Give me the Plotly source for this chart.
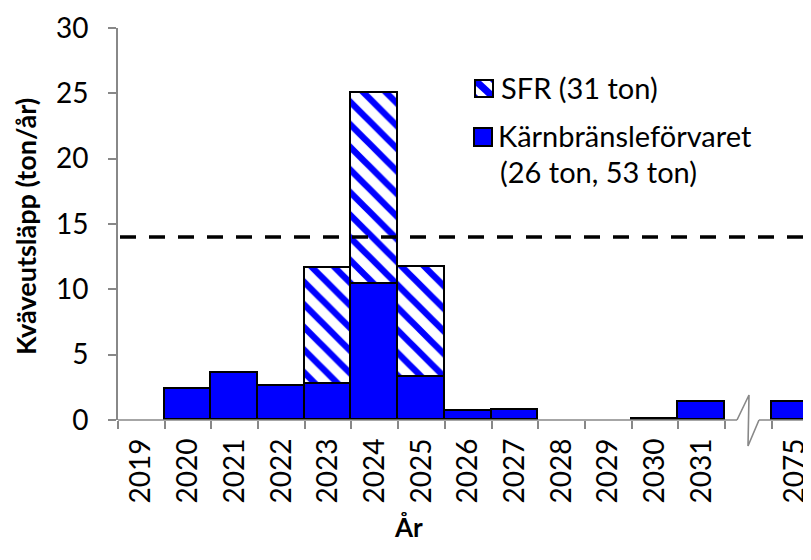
import plotly.graph_objects as go

# ---- data ----
categories = ["2019", "2020", "2021", "2022", "2023", "2024", "2025", "2026",
              "2027", "2028", "2029", "2030", "2031", " ", "2075"]
karn_values = [0, 2.4, 3.6, 2.6, 2.75, 10.4, 3.3, 0.7, 0.8, 0, 0, 0.1, 1.37, None, 1.37]
sfr_values = [0, 0, 0, 0, 8.9, 14.6, 8.4, 0, 0, 0, 0, 0, 0, None, 0]
threshold = 14
y_ticks = [0, 5, 10, 15, 20, 25, 30]

name_sfr = "SFR (31 ton)"
name_karn_1 = "Kärnbränsleförvaret"
name_karn_2 = "(26 ton, 53 ton)"

BLUE = "#0000FF"
GRAY = "#888888"
FONT = "Lato"

# page has an 8px body margin; figure sized so the plot area lands where wanted
OFF = 8
L, R, T, B = 118, 811, 28, 420          # plot area in screen pixels
W, H = R - L, B - T
FIG_W, FIG_H = 811 - OFF, 560 - OFF


def px(x):
    return (x - L) / W


def py(y):
    return (B - y) / H


def nz(vals):
    return [v if (v is not None and v != 0) else None for v in vals]


fig = go.Figure()
fig.add_trace(go.Bar(
    x=categories, y=nz(karn_values), name=name_karn_1 + " " + name_karn_2,
    marker=dict(color=BLUE, line=dict(color="black", width=1.6)),
    width=1.0, showlegend=False,
))
fig.add_trace(go.Bar(
    x=categories, y=nz(sfr_values), name=name_sfr,
    marker=dict(color="white", line=dict(color="black", width=1.6),
                pattern=dict(shape="\\", fgcolor=BLUE, bgcolor="white", fgopacity=1,
                             size=16, solidity=0.4, fillmode="replace")),
    width=1.0, showlegend=False,
))

# x-axis line with break (drawn as shapes)
x_break_l = px(737)
x_break_r = px(759)
shapes = [
    dict(type="line", xref="paper", yref="paper", x0=0, x1=x_break_l, y0=0, y1=0,
         line=dict(color=GRAY, width=1.6), layer="above"),
    dict(type="line", xref="paper", yref="paper", x0=x_break_r, x1=1, y0=0, y1=0,
         line=dict(color=GRAY, width=1.6), layer="above"),
    dict(type="path", xref="paper", yref="paper",
         path=f"M {x_break_l},0 L {px(749)},{py(395)} L {px(748)},{py(446)} L {x_break_r},0",
         line=dict(color=GRAY, width=1.6), layer="above"),
    dict(type="line", xref="paper", yref="y", x0=px(120), x1=1, y0=threshold, y1=threshold,
         line=dict(color="black", width=3.5, dash="16px,13px"), layer="above"),
]

# ---- manual legend ----
sx0, sx1, sy0, sy1 = 475, 493, 80, 97
shapes += [
    dict(type="rect", xref="paper", yref="paper", x0=px(sx0), x1=px(sx1), y0=py(sy1), y1=py(sy0),
         fillcolor="white", line=dict(width=0), layer="above"),
    dict(type="path", xref="paper", yref="paper",
         path=(f"M {px(sx0)},{py(sy0)} L {px(sx0+5)},{py(sy0)} L {px(sx1)},{py(sy1-5)} "
               f"L {px(sx1)},{py(sy1)} L {px(sx1-5)},{py(sy1)} L {px(sx0)},{py(sy0+5)} Z"),
         fillcolor=BLUE, line=dict(width=0), layer="above"),
    dict(type="path", xref="paper", yref="paper",
         path=(f"M {px(sx1-4)},{py(sy0)} L {px(sx1)},{py(sy0)} L {px(sx1)},{py(sy0+4)} Z"),
         fillcolor=BLUE, line=dict(width=0), layer="above"),
    dict(type="path", xref="paper", yref="paper",
         path=(f"M {px(sx0)},{py(sy1-4)} L {px(sx0)},{py(sy1)} L {px(sx0+4)},{py(sy1)} Z"),
         fillcolor=BLUE, line=dict(width=0), layer="above"),
    dict(type="rect", xref="paper", yref="paper", x0=px(sx0), x1=px(sx1), y0=py(sy1), y1=py(sy0),
         fillcolor="rgba(0,0,0,0)", line=dict(color="black", width=2), layer="above"),
]
kx0, kx1, ky0, ky1 = 474, 492, 128, 146
shapes += [
    dict(type="rect", xref="paper", yref="paper", x0=px(kx0), x1=px(kx1), y0=py(ky1), y1=py(ky0),
         fillcolor=BLUE, line=dict(color="black", width=2), layer="above"),
]

annotations = [
    dict(text=name_sfr, xref="paper", yref="paper", x=px(499), y=py(88),
         showarrow=False, font=dict(family=FONT, size=29, color="black"),
         xanchor="left", yanchor="middle"),
    dict(text=name_karn_1, xref="paper", yref="paper", x=px(496), y=py(136),
         showarrow=False, font=dict(family=FONT, size=29, color="black"),
         xanchor="left", yanchor="middle"),
    dict(text=name_karn_2, xref="paper", yref="paper", x=px(498), y=py(171),
         showarrow=False, font=dict(family=FONT, size=29, color="black"),
         xanchor="left", yanchor="middle"),
    dict(text="<b>År</b>", xref="paper", yref="paper", x=px(408), y=py(527),
         showarrow=False, font=dict(family=FONT, size=26, color="black"),
         xanchor="center", yanchor="middle"),
    dict(text="<b>Kväveutsläpp (ton/år)</b>", xref="paper", yref="paper",
         x=px(26), y=py(226), textangle=-90,
         showarrow=False, font=dict(family=FONT, size=27, color="black"),
         xanchor="center", yanchor="middle"),
]

fig.update_layout(
    width=FIG_W, height=FIG_H,
    margin=dict(l=L - OFF, r=0, t=T - OFF, b=FIG_H - (B - OFF)),
    paper_bgcolor="white", plot_bgcolor="white",
    barmode="stack", bargap=0,
    font=dict(family=FONT, size=28, color="black"),
    showlegend=False,
    xaxis=dict(type="category", categoryorder="array", categoryarray=categories,
               range=[-0.5, 14.34], showline=False, showgrid=False, zeroline=False,
               ticks="outside", tickson="boundaries", ticklen=8, tickwidth=1.6,
               tickcolor=GRAY, tickangle=-90, tickfont=dict(family=FONT, size=28),
               ticklabelstandoff=12, automargin=False),
    yaxis=dict(range=[0, 30], tickvals=y_ticks, showline=True, linecolor=GRAY,
               linewidth=1.6, showgrid=False, zeroline=False, ticks="outside",
               ticklen=8, tickwidth=1.6, tickcolor=GRAY,
               tickfont=dict(family=FONT, size=28), ticklabelstandoff=14,
               automargin=False),
    shapes=shapes,
    annotations=annotations,
)

fig.write_html("out.html")
